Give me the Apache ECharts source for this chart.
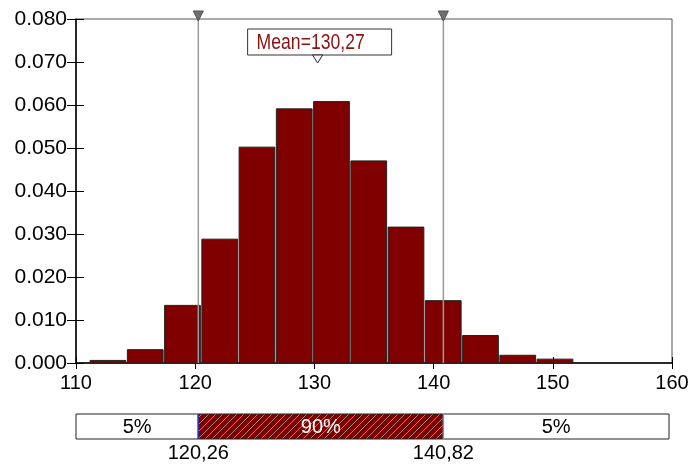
<!DOCTYPE html>
<html>
<head>
<meta charset="utf-8">
<script src="https://cdn.jsdelivr.net/npm/echarts@6/dist/echarts.min.js"></script>
<style>
  html, body { margin: 0; padding: 0; background: #fff; }
  #chart { width: 693px; height: 468px; }
</style>
</head>
<body>
<div id="chart"></div>
<script>
// histogram bins (left edge) and density per bin
var binStart = [111.1, 114.225, 117.35, 120.475, 123.6, 126.725, 129.85, 132.975, 136.1, 139.225, 142.35, 145.475, 148.6];
var binWidth = 3.125;
var density = [0.0006, 0.0031, 0.0134, 0.0288, 0.0502, 0.0591, 0.0608, 0.0470, 0.0316, 0.0145, 0.0064, 0.0018, 0.0009];

// 90% interval and mean
var cutValues = [120.26, 140.82];
var meanValue = 130.27;

// bottom band: edges and shares
var bandEdges = [110, 120.26, 140.82, 159.75];
var bandShares = ['5%', '90%', '5%'];

var font = 'Liberation Sans, Arial, sans-serif';

function comma(v) {
    return v.toFixed(2).replace('.', ',');
}

// hatch pattern for the middle band
var hatch = document.createElement('canvas');
hatch.width = 7;
hatch.height = 7;
var hc = hatch.getContext('2d');
hc.fillStyle = '#800000';
hc.fillRect(0, 0, 7, 7);
hc.strokeStyle = '#a08080';
hc.lineWidth = 1;
hc.beginPath();
hc.moveTo(0, 7); hc.lineTo(7, 0);
hc.moveTo(-1, 1); hc.lineTo(1, -1);
hc.moveTo(6, 8); hc.lineTo(8, 6);
hc.stroke();

var histData = binStart.map(function (s, i) {
    return [s, s + binWidth, density[i]];
});

var bandData = bandShares.map(function (s, i) {
    return [bandEdges[i], bandEdges[i + 1], s];
});

var chart = echarts.init(document.getElementById('chart'));
chart.setOption({
    animation: false,
    grid: [
        {left: 76, right: 21, top: 19, bottom: 105, show: true, borderColor: '#555', borderWidth: 1},
        {left: 76, right: 21, top: 414, height: 25}
    ],
    xAxis: [
        {
            gridIndex: 0, type: 'value', position: 'bottom',
            min: 110, max: 160, interval: 10,
            axisLine: {show: true, lineStyle: {color: '#000', width: 1.5}},
            axisTick: {show: true, inside: false, length: 6, lineStyle: {color: '#000'}},
            axisLabel: {color: '#000', fontSize: 20, fontFamily: font, margin: 10},
            splitLine: {show: false}
        },
        {
            gridIndex: 0, type: 'value', position: 'bottom',
            min: 110, max: 160, interval: 10,
            axisLine: {show: false},
            axisTick: {show: true, inside: true, length: 6, lineStyle: {color: '#000'}},
            axisLabel: {show: false},
            splitLine: {show: false}
        },
        {gridIndex: 1, type: 'value', min: 110, max: 160, show: false}
    ],
    yAxis: [
        {
            gridIndex: 0, type: 'value', position: 'left',
            min: 0, max: 0.08, interval: 0.01,
            axisLine: {show: true, lineStyle: {color: '#000', width: 1.5}},
            axisTick: {show: true, inside: false, length: 9, lineStyle: {color: '#000'}},
            axisLabel: {
                color: '#000', fontSize: 21, fontFamily: font, margin: 9,
                formatter: function (v) { return v.toFixed(3); }
            },
            splitLine: {show: false}
        },
        {
            gridIndex: 0, type: 'value', position: 'left',
            min: 0, max: 0.08, interval: 0.01,
            axisLine: {show: false},
            axisTick: {show: true, inside: true, length: 8, lineStyle: {color: '#000'}},
            axisLabel: {show: false},
            splitLine: {show: false}
        },
        {gridIndex: 1, type: 'value', min: 0, max: 1, show: false}
    ],
    series: [
        {
            name: 'histogram',
            type: 'custom',
            xAxisIndex: 0, yAxisIndex: 0,
            data: histData,
            renderItem: function (params, api) {
                var p0 = api.coord([api.value(0), 0]);
                var p1 = api.coord([api.value(1), api.value(2)]);
                return {
                    type: 'rect',
                    shape: {x: p0[0] + 1, y: p1[1], width: p1[0] - p0[0] - 1.5, height: p0[1] - p1[1]},
                    style: {fill: '#800000', stroke: '#222', lineWidth: 1}
                };
            },
            z: 2
        },
        {
            name: 'cuts',
            type: 'custom',
            xAxisIndex: 0, yAxisIndex: 0,
            clip: false,
            data: cutValues.map(function (v) { return [v]; }),
            renderItem: function (params, api) {
                var b = api.coord([api.value(0), 0]);
                var t = api.coord([api.value(0), 0.08]);
                return {
                    type: 'group',
                    children: [
                        {
                            type: 'line',
                            shape: {x1: b[0], y1: b[1], x2: t[0], y2: t[1]},
                            style: {stroke: '#9a9a9a', lineWidth: 1.5}
                        },
                        {
                            type: 'polygon',
                            shape: {points: [[t[0] - 5, t[1] - 8], [t[0] + 5, t[1] - 8], [t[0], t[1] + 2]]},
                            style: {fill: '#707070', stroke: '#505050', lineWidth: 1}
                        }
                    ]
                };
            },
            z: 5
        },
        {
            name: 'mean',
            type: 'custom',
            xAxisIndex: 0, yAxisIndex: 0,
            clip: false,
            data: [[meanValue]],
            renderItem: function (params, api) {
                var t = api.coord([api.value(0), 0.08]);
                var x = t[0], y = t[1];
                return {
                    type: 'group',
                    children: [
                        {
                            type: 'rect',
                            shape: {x: x - 70, y: y + 10, width: 144, height: 26},
                            style: {fill: '#fff', stroke: '#333', lineWidth: 1}
                        },
                        {
                            type: 'polygon',
                            shape: {points: [[x - 5, y + 36], [x + 5, y + 36], [x, y + 44]]},
                            style: {fill: '#fff', stroke: '#222', lineWidth: 1}
                        },
                        {
                            type: 'text',
                            x: x - 61, y: y + 24,
                            scaleX: 0.8,
                            style: {
                                x: 0, y: 0,
                                text: 'Mean=' + comma(meanValue),
                                fill: '#8b1010',
                                font: '22px ' + font,
                                align: 'left', verticalAlign: 'middle'
                            }
                        }
                    ]
                };
            },
            z: 6
        },
        {
            name: 'band',
            type: 'custom',
            xAxisIndex: 2, yAxisIndex: 2,
            clip: false,
            data: bandData,
            renderItem: function (params, api) {
                var p0 = api.coord([api.value(0), 0]);
                var p1 = api.coord([api.value(1), 1]);
                var mid = params.dataIndex === 1;
                return {
                    type: 'group',
                    children: [
                        {
                            type: 'rect',
                            shape: {x: p0[0], y: p1[1], width: p1[0] - p0[0], height: p0[1] - p1[1]},
                            style: {
                                fill: mid ? {image: hatch, repeat: 'repeat'} : '#fff',
                                stroke: '#222', lineWidth: 1
                            }
                        },
                        {
                            type: 'text',
                            style: {
                                x: (p0[0] + p1[0]) / 2, y: (p0[1] + p1[1]) / 2 + 1,
                                text: api.value(2),
                                fill: mid ? '#fff' : '#000',
                                font: '20px ' + font,
                                align: 'center', verticalAlign: 'middle'
                            }
                        }
                    ]
                };
            },
            z: 3
        },
        {
            name: 'bandCuts',
            type: 'custom',
            xAxisIndex: 2, yAxisIndex: 2,
            clip: false,
            data: cutValues.map(function (v) { return [v]; }),
            renderItem: function (params, api) {
                var b = api.coord([api.value(0), 0]);
                var t = api.coord([api.value(0), 1]);
                return {
                    type: 'group',
                    children: [
                        {
                            type: 'line',
                            shape: {x1: b[0], y1: b[1], x2: t[0], y2: t[1]},
                            style: {stroke: params.dataIndex === 0 ? '#33339a' : '#8888bb', lineWidth: 1.5}
                        },
                        {
                            type: 'text',
                            style: {
                                x: b[0], y: b[1] + 14,
                                text: comma(api.value(0)),
                                fill: '#000',
                                font: '20px ' + font,
                                align: 'center', verticalAlign: 'middle'
                            }
                        }
                    ]
                };
            },
            z: 4
        }
    ]
});
</script>
</body>
</html>
